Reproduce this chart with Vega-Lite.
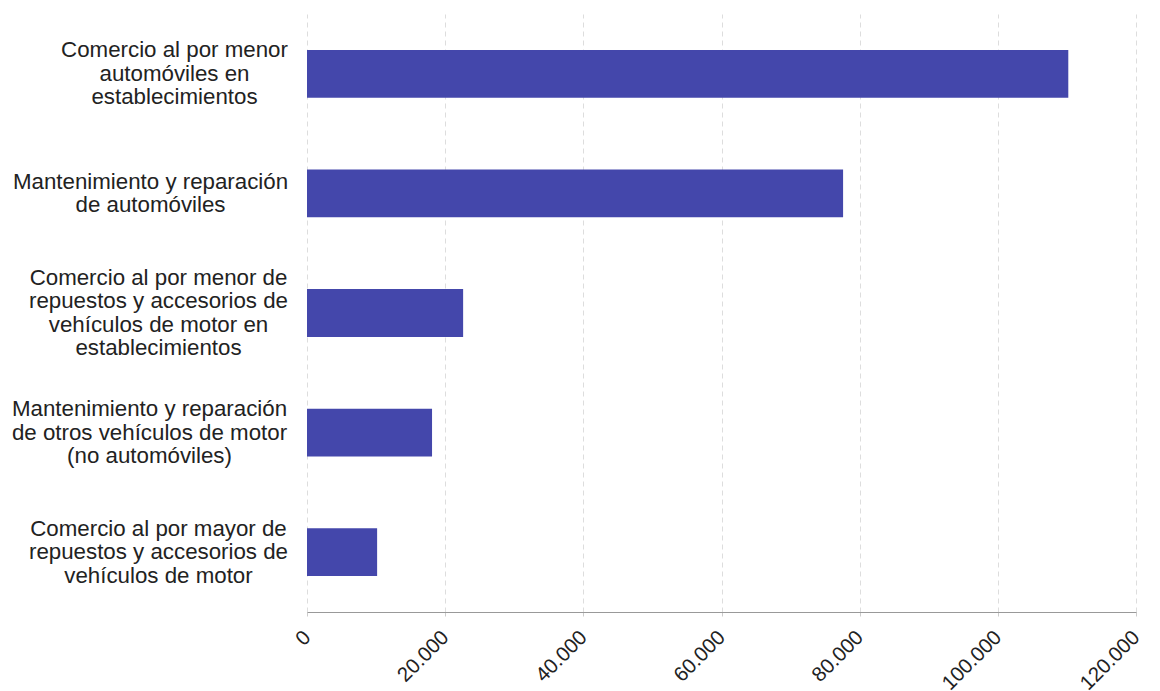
{
  "$schema": "https://vega.github.io/schema/vega-lite/v6.json",
  "autosize": {"type": "none"},
  "padding": {"left": 307, "top": 14, "right": 24, "bottom": 79},
  "width": 829,
  "height": 598,
  "config": {
    "locale": {"number": {"decimal": ",", "thousands": ".", "grouping": [3], "currency": ["", " €"]}},
    "view": {"stroke": null},
    "font": "Liberation Sans"
  },
  "data": {
    "values": [
      {"actividad": "Comercio al por menor|automóviles en|establecimientos", "valor": 110200},
      {"actividad": "Mantenimiento y reparación|de automóviles", "valor": 77600},
      {"actividad": "Comercio al por menor de|repuestos y accesorios de|vehículos de motor en|establecimientos", "valor": 22600},
      {"actividad": "Mantenimiento y reparación|de otros vehículos de motor|(no automóviles)", "valor": 18100},
      {"actividad": "Comercio al por mayor de|repuestos y accesorios de|vehículos de motor", "valor": 10150}
    ]
  },
  "mark": {"type": "bar", "color": "#4447ab"},
  "encoding": {
    "y": {
      "field": "actividad",
      "type": "nominal",
      "sort": null,
      "scale": {"paddingInner": 0.6, "paddingOuter": 0.3},
      "axis": {
        "title": null,
        "domain": false,
        "ticks": false,
        "labelExpr": "split(datum.label, '|')",
        "labelFontSize": 22.3,
        "labelLineHeight": 23.5,
        "labelColor": "#222",
        "labelAlign": "center",
        "labelLimit": 400,
        "labelPadding": {
          "condition": [
            {"test": "indexof(datum.label, 'automóviles en') >= 0", "value": 133},
            {"test": "indexof(datum.label, 'de automóviles') >= 0", "value": 157},
            {"test": "indexof(datum.label, 'establecimientos') >= 0", "value": 149},
            {"test": "indexof(datum.label, '(no automóviles)') >= 0", "value": 158}
          ],
          "value": 149
        },
        "labelOffset": {
          "condition": [
            {"test": "length(split(datum.label, '|')) == 4", "value": -35.25},
            {"test": "length(split(datum.label, '|')) == 3", "value": -23.5},
            {"test": "length(split(datum.label, '|')) == 2", "value": -11.75}
          ],
          "value": 0
        }
      }
    },
    "x": {
      "field": "valor",
      "type": "quantitative",
      "scale": {"domain": [0, 120000]},
      "axis": {
        "title": null,
        "format": ",d",
        "values": [0, 20000, 40000, 60000, 80000, 100000, 120000],
        "labelAngle": -45,
        "labelAlign": "right",
        "labelBaseline": "middle",
        "labelFontSize": 20.5,
        "labelColor": "#222",
        "labelPadding": 16,
        "domainColor": "#999",
        "tickColor": "#ccc",
        "tickSize": 6,
        "tickDash": [4, 3],
        "grid": true,
        "gridColor": "#ddd",
        "gridDash": [5, 4]
      }
    }
  }
}
